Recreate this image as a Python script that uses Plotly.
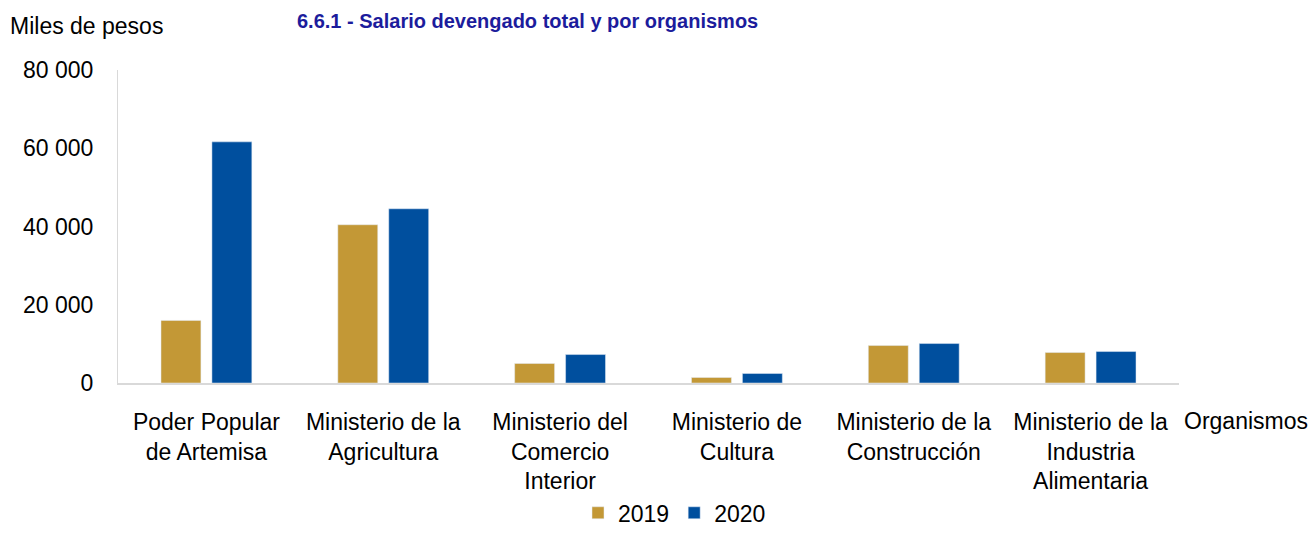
import plotly.graph_objects as go

categories = [
    "Poder Popular<br>de Artemisa",
    "Ministerio de la<br>Agricultura",
    "Ministerio del<br>Comercio<br>Interior",
    "Ministerio de<br>Cultura",
    "Ministerio de la<br>Construcción",
    "Ministerio de la<br>Industria<br>Alimentaria",
]
values_2019 = [16000, 40450, 4980, 1400, 9570, 7780]
values_2020 = [61630, 44530, 7270, 2420, 10080, 8040]
y_ticks = [0, 20000, 40000, 60000, 80000]
y_ticktext = [f"{v:,}".replace(",", " ") for v in y_ticks]

FONT = "Liberation Sans, Arial, sans-serif"
PH = 313.5   # plot height in px
PW = 1061    # plot width in px

fig = go.Figure()
fig.add_trace(go.Bar(name="2019", x=categories, y=values_2019, marker_color="#C39836"))
fig.add_trace(go.Bar(name="2020", x=categories, y=values_2020, marker_color="#004F9E"))

# page body has an 8px default margin, so the figure is 8px smaller
fig.update_layout(
    width=1308, height=527,
    margin=dict(l=110, r=137, t=62, b=151.5, autoexpand=False),
    paper_bgcolor="white", plot_bgcolor="white",
    barmode="group", bargap=0.424, bargroupgap=0.216,
    font=dict(family=FONT, size=23, color="#000000"),
    showlegend=True,
    legend=dict(orientation="h", x=(578 - 118) / PW, xanchor="left",
                y=-(492 - 383.5) / PH, yanchor="top",
                font=dict(size=23), itemwidth=30, bgcolor="rgba(0,0,0,0)"),
)
fig.update_xaxes(showline=True, linecolor="#D9D9D9", linewidth=2, showgrid=False,
                 ticks="", tickfont=dict(size=23), ticklabelstandoff=17)
fig.update_yaxes(range=[0, 80000], tickvals=y_ticks, ticktext=y_ticktext,
                 showline=True, linecolor="#D9D9D9", linewidth=1, showgrid=False,
                 zeroline=False, ticks="", tickfont=dict(size=23), ticklabelstandoff=19)

fig.add_annotation(text="<b>6.6.1 - Salario devengado total y por organismos</b>",
                   xref="paper", yref="paper", x=(527 - 118) / PW, y=1 + 62 / PH,
                   xanchor="center", yanchor="top", showarrow=False,
                   font=dict(size=20, color="#1C1C9C", family=FONT))
fig.add_annotation(text="Miles de pesos", xref="paper", yref="paper",
                   x=-110 / PW, y=1 + (70 - 26) / PH, xanchor="left", yanchor="middle",
                   showarrow=False, font=dict(size=23))
fig.add_annotation(text="Organismos", xref="paper", yref="paper",
                   x=1 + 3 / PW, y=-(422 - 383.5) / PH, xanchor="left", yanchor="middle",
                   showarrow=False, font=dict(size=23))

fig.write_html("out.html")
